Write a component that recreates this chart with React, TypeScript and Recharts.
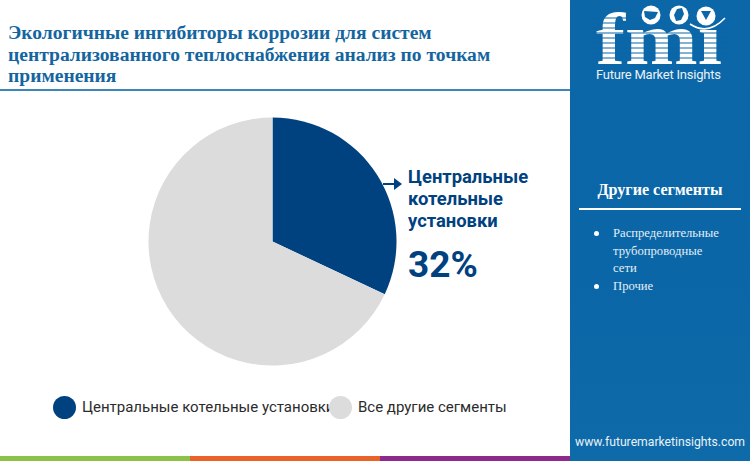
import React from "react";
import { PieChart, Pie, Cell, Legend } from "recharts";

const titleLines = [
  "Экологичные ингибиторы коррозии для систем",
  "централизованного теплоснабжения анализ по точкам",
  "применения",
];
const segmentNames = ["Центральные котельные установки", "Все другие сегменты"];
const segmentValues = [32, 68];
const segmentColors = ["#00427f", "#dcdcdc"];
const calloutLines = ["Центральные", "котельные", "установки"];
const calloutValue = "32%";
const sideTitle = "Другие сегменты";
const sideItems = [["Распределительные", "трубопроводные", "сети"], ["Прочие"]];
const logoStripes = [18, 23, 28, 33, 38, 43, 48, 53, 58];
const stripeColors = ["#8bc34a", "#e8622a", "#8e2a8c"];

const data = segmentNames.map((name, i) => ({ name, value: segmentValues[i] }));
const serif = "'Liberation Serif', serif";
const sans = "Roboto, sans-serif";

function LegendRow({ payload }: any) {
  const lefts = [53, 329];
  return (
    <div style={{ position: "relative", width: 750, height: 24 }}>
      {(payload || []).map((entry: any, i: number) => (
        <div key={entry.value} style={{ position: "absolute", left: lefts[i], top: 0, height: 24, display: "flex", alignItems: "center", whiteSpace: "nowrap" }}>
          <span style={{ width: 23, height: 23, borderRadius: "50%", background: entry.color, marginRight: 6, position: "relative", zIndex: 2 }} />
          <span style={{ fontFamily: sans, fontSize: 15, color: "#2b2b2b" }}>{entry.value}</span>
        </div>
      ))}
    </div>
  );
}

function Logo() {
  return (
    <svg width={180} height={100} viewBox="570 0 180 100" style={{ position: "absolute", left: 570, top: 0 }}>
      <text x={596} y={64} fontFamily={serif} fontWeight={700} fontSize={75} fill="#ffffff" textLength={126} lengthAdjust="spacingAndGlyphs">fmı</text>
      {logoStripes.map((y) => (
        <line key={y} x1={590} x2={730} y1={y} y2={y} stroke="#0b67a8" strokeWidth={1.2} />
      ))}
      <circle cx={651} cy={15} r={9.5} fill="#ffffff" />
      <circle cx={679} cy={15} r={9.5} fill="#ffffff" />
      <circle cx={706} cy={16} r={9.5} fill="#ffffff" />
      <path d="M644 11 L658 12 L655 18 L650 20 L645 17 Z" fill="#0b67a8" />
      <path d="M677 9 L682 8 L684 14 L681 20 L676 21 L674 15 Z" fill="#0b67a8" />
      <path d="M701 11 L711 11 L706 20 Z" fill="#0b67a8" />
      <path d="M690 24 Q708 36 725 18" fill="none" stroke="#ffffff" strokeWidth={1.6} />
      <text x={596} y={79} fontFamily={sans} fontSize={13} fill="#e8f2f9" textLength={125}>Future Market Insights</text>
    </svg>
  );
}

export default function App() {
  return (
    <div style={{ position: "fixed", left: 0, top: 0, width: 750, height: 461, background: "#ffffff", overflow: "hidden" }}>
      {titleLines.map((line, i) => (
        <div key={line} style={{ position: "absolute", left: 8, top: 22 + i * 21.5, fontFamily: serif, fontWeight: 700, fontSize: 19.56, lineHeight: "22px", color: "#14659f", whiteSpace: "nowrap" }}>{line}</div>
      ))}
      <div style={{ position: "absolute", left: 0, top: 89, width: 570, height: 1.5, background: "#3b88b8" }} />

      <div style={{ position: "absolute", left: 0, top: 0 }}>
        <PieChart width={750} height={461} margin={{ top: 0, right: 0, bottom: 0, left: 0 }}>
          <Pie data={data} dataKey="value" nameKey="name" cx={272.5} cy={241.5} outerRadius={124} innerRadius={0} startAngle={90} endAngle={-270} stroke="none" isAnimationActive={false}>
            {data.map((d, i) => (
              <Cell key={d.name} fill={segmentColors[i]} />
            ))}
          </Pie>
          <Legend content={LegendRow} itemSorter={null} layout="horizontal" verticalAlign="bottom" wrapperStyle={{ position: "absolute", left: 0, top: 395, bottom: "auto", width: 750 }} />
        </PieChart>
      </div>

      <svg width={30} height={20} style={{ position: "absolute", left: 380, top: 174 }}>
        <line x1={3} x2={16} y1={10} y2={10} stroke="#00427f" strokeWidth={2} />
        <path d="M14 4 L22 10 L14 16 Z" fill="#00427f" />
      </svg>
      {calloutLines.map((line, i) => (
        <div key={line} style={{ position: "absolute", left: 408, top: 166 + i * 22, fontFamily: sans, fontWeight: 700, fontSize: 18.4, lineHeight: "22px", color: "#00427f" }}>{line}</div>
      ))}
      <div style={{ position: "absolute", left: 408, top: 243, fontFamily: sans, fontWeight: 700, fontSize: 37, lineHeight: "44px", color: "#00427f" }}>{calloutValue}</div>

      <div style={{ position: "absolute", left: 0, top: 456, width: 570, height: 5, display: "flex" }}>
        {stripeColors.map((c) => (
          <div key={c} style={{ flex: 1, background: c }} />
        ))}
      </div>

      <div style={{ position: "absolute", left: 570, top: 0, width: 180, height: 461, background: "linear-gradient(180deg, #0b67a8 0%, #0a66a6 60%, #0e6aa8 100%)" }} />
      <Logo />
      <div style={{ position: "absolute", left: 570, top: 180, width: 180, textAlign: "center", fontFamily: serif, fontWeight: 700, fontSize: 16.1, lineHeight: "20px", color: "#ffffff" }}>{sideTitle}</div>
      <div style={{ position: "absolute", left: 579, top: 208, width: 162, height: 1.5, background: "#ffffff" }} />
      <div style={{ position: "absolute", left: 594, top: 225 }}>
        {sideItems.map((lines) => (
          <div key={lines[0]} style={{ position: "relative", paddingLeft: 19 }}>
            <span style={{ position: "absolute", left: 0, top: 6, width: 5, height: 5, borderRadius: "50%", background: "#ffffff" }} />
            {lines.map((l) => (
              <div key={l} style={{ fontFamily: serif, fontSize: 12.65, lineHeight: "17.7px", color: "#e3eff7", whiteSpace: "nowrap" }}>{l}</div>
            ))}
          </div>
        ))}
      </div>
      <div style={{ position: "absolute", left: 575, top: 434, fontFamily: sans, fontSize: 12.2, lineHeight: "16px", color: "#e8f2f9", whiteSpace: "nowrap" }}>www.futuremarketinsights.com</div>
    </div>
  );
}
